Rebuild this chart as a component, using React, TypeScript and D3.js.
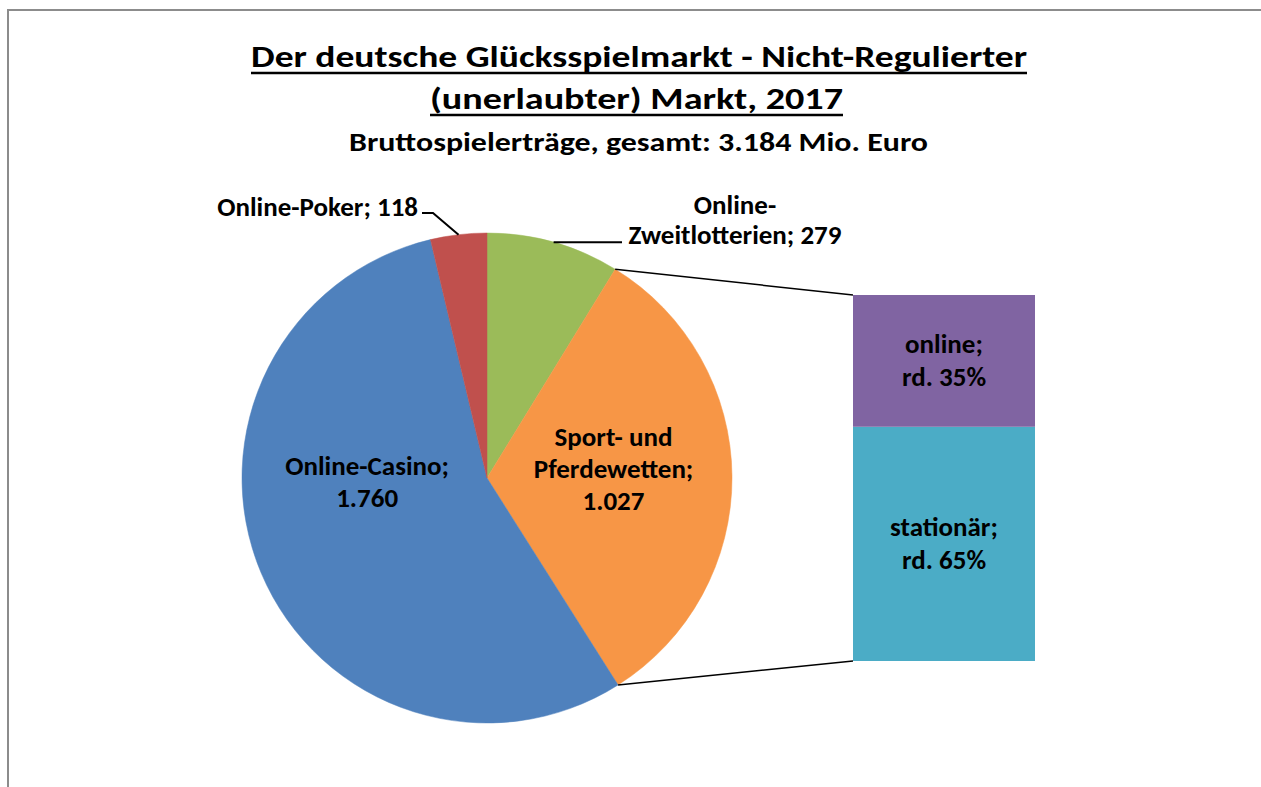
import React, { useEffect, useRef } from 'react';
import * as d3 from 'd3';

// slices, clockwise from 12 o'clock (Mio. Euro)
const categories = ['Online-Zweitlotterien', 'Sport- und Pferdewetten', 'Online-Casino', 'Online-Poker'];
const values = [279, 1027, 1760, 118];
const labelLines = [
  ['Online-', 'Zweitlotterien; 279'],
  ['Sport- und', 'Pferdewetten;', '1.027'],
  ['Online-Casino;', '1.760'],
  ['Online-Poker; 118'],
];
const colors = ['#9BBB59', '#F79646', '#4F81BD', '#C0504D'];

// breakdown of Sport- und Pferdewetten (percent, bottom to top)
const splitCategories = ['stationär', 'online'];
const splitValues = [64, 36];
const splitLabels = [['stationär;', 'rd. 65%'], ['online;', 'rd. 35%']];
const splitColors = ['#4BACC6', '#8064A2'];

const titleLines = ['Der deutsche Glücksspielmarkt - Nicht-Regulierter', '(unerlaubter) Markt, 2017'];
const subtitle = 'Bruttospielerträge, gesamt: 3.184 Mio. Euro';

const FONT = "Calibri, Carlito, Lato, 'Open Sans', sans-serif";

export default function App() {
  const ref = useRef<SVGSVGElement>(null);

  useEffect(() => {
    const svg = d3.select(ref.current);
    svg.selectAll('*').remove();
    const width = 1261;
    const height = 787;
    svg.attr('width', width).attr('height', height);

    // frame
    svg.append('path')
      .attr('d', `M8,787 L8,10 L1261,10`)
      .attr('fill', 'none')
      .attr('stroke', '#8c8c8c')
      .attr('stroke-width', 2);

    // titles
    const tg = svg.append('g').attr('font-family', FONT).attr('font-weight', 'bold').attr('fill', '#000');
    const titleSpan = [[251, 1027], [430, 843]];
    titleLines.forEach((t, i) => {
      const [x0, x1] = titleSpan[i];
      const y = 67 + i * 42;
      tg.append('text')
        .attr('x', x0).attr('y', y)
        .attr('font-size', 31)
        .attr('textLength', x1 - x0)
        .attr('lengthAdjust', 'spacingAndGlyphs')
        .text(t);
      tg.append('line')
        .attr('x1', x0).attr('x2', x1)
        .attr('y1', y + 6).attr('y2', y + 6)
        .attr('stroke', '#000').attr('stroke-width', 2.5);
    });
    tg.append('text')
      .attr('x', 349).attr('y', 151)
      .attr('font-size', 26)
      .attr('textLength', 928 - 349)
      .attr('lengthAdjust', 'spacingAndGlyphs')
      .text(subtitle);

    // pie
    const cx = 487, cy = 478, r = 245;
    const data = categories.map((c, i) => ({ c, v: values[i], i }));
    const pie = d3.pie<any>().value((d) => d.v).sort(null).startAngle(0).endAngle(2 * Math.PI);
    const arcs = pie(data);
    const arc = d3.arc<any>().innerRadius(0).outerRadius(r);
    const g = svg.append('g').attr('transform', `translate(${cx},${cy})`);
    g.selectAll('path.slice').data(arcs).enter().append('path')
      .attr('class', 'slice')
      .attr('d', arc)
      .attr('fill', (d) => colors[d.data.i])
      .attr('stroke', (d) => colors[d.data.i])
      .attr('stroke-width', 0.5);

    const pt = (a: number, rr: number) => [Math.sin(a) * rr, -Math.cos(a) * rr];

    // stacked bar for the Sport- und Pferdewetten split
    const bx0 = 853, bx1 = 1035;
    const y = d3.scaleLinear().domain([0, 100]).range([661, 295]);
    let acc = 0;
    const stacks = splitValues.map((v, i) => {
      const s = { i, y0: acc, y1: acc + v };
      acc += v;
      return s;
    });
    svg.selectAll('rect.split').data(stacks).enter().append('rect')
      .attr('class', 'split')
      .attr('x', bx0).attr('width', bx1 - bx0)
      .attr('y', (d) => y(d.y1))
      .attr('height', (d) => y(d.y0) - y(d.y1))
      .attr('fill', (d) => splitColors[d.i]);

    // connectors from the orange slice to the bar
    const orange = arcs[1];
    const os = pt(orange.startAngle, r);
    const oe = pt(orange.endAngle, r);
    svg.append('line')
      .attr('x1', cx + os[0]).attr('y1', cy + os[1])
      .attr('x2', bx0).attr('y2', y(100))
      .attr('stroke', '#000').attr('stroke-width', 1.5);
    svg.append('line')
      .attr('x1', cx + oe[0]).attr('y1', cy + oe[1])
      .attr('x2', bx0).attr('y2', y(0))
      .attr('stroke', '#000').attr('stroke-width', 1.5);

    // leader lines
    const green = arcs[0];
    const gm = pt((green.startAngle + green.endAngle) / 2, r);
    svg.append('path')
      .attr('d', `M${cx + gm[0]},${cy + gm[1]} L622,${cy + gm[1]}`)
      .attr('fill', 'none').attr('stroke', '#000').attr('stroke-width', 2);
    const poker = arcs[3];
    const pm = pt((poker.startAngle + poker.endAngle) / 2, r);
    svg.append('path')
      .attr('d', `M${cx + pm[0]},${cy + pm[1]} L433,213 L422,213`)
      .attr('fill', 'none').attr('stroke', '#000').attr('stroke-width', 2);

    // labels (drawn last)
    const lh = 32;
    const lg = svg.append('g').attr('font-family', FONT).attr('font-weight', 'bold').attr('font-size', 27).attr('fill', '#000');
    const insideOffset: Record<number, [number, number]> = { 1: [4, -8], 2: [-7, -44] };
    arcs.forEach((a) => {
      const i = a.data.i;
      if (insideOffset[i] === undefined) return;
      const [x, yy] = arc.centroid(a);
      const lines = labelLines[i];
      lines.forEach((l, j) => {
        lg.append('text')
          .attr('x', cx + x + insideOffset[i][0])
          .attr('y', cy + yy + insideOffset[i][1] + (j - (lines.length - 1) / 2) * lh + 9)
          .attr('text-anchor', 'middle')
          .text(l);
      });
    });
    labelLines[0].forEach((l, j) => {
      lg.append('text')
        .attr('x', 735).attr('y', 214 + j * 30)
        .attr('text-anchor', 'middle')
        .text(l);
    });
    lg.append('text')
      .attr('x', 418).attr('y', 216)
      .attr('text-anchor', 'end')
      .text(labelLines[3][0]);
    stacks.forEach((s) => {
      const mid = (y(s.y0) + y(s.y1)) / 2;
      splitLabels[s.i].forEach((l, j) => {
        lg.append('text')
          .attr('x', (bx0 + bx1) / 2).attr('y', mid + (j - 0.5) * 33 + 9)
          .attr('text-anchor', 'middle')
          .text(l);
      });
    });
  }, []);

  return (
    <div style={{ position: 'absolute', left: 0, top: 0, background: '#fff' }}>
      <svg ref={ref} style={{ display: 'block' }}></svg>
    </div>
  );
}
